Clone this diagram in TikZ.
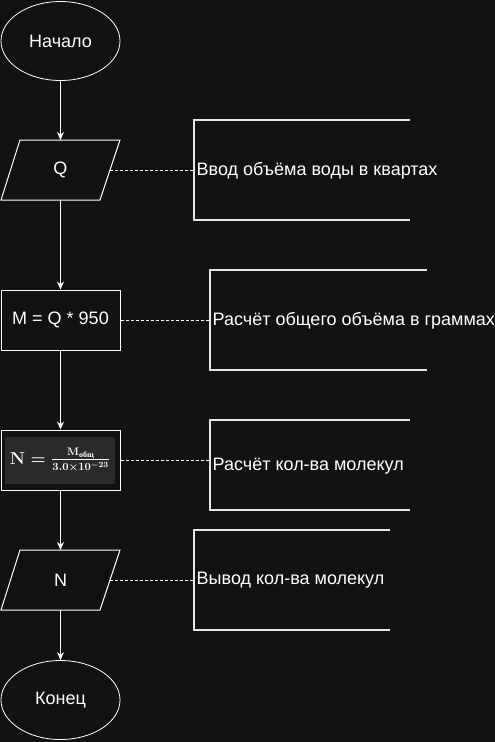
\documentclass[tikz,border=0pt]{standalone}
\usepackage[no-math]{fontspec}
\setmainfont{Liberation Sans}
\newfontfamily\cyrserif{Liberation Serif}
\usepackage{amsmath}
\usetikzlibrary{shapes.geometric,arrows.meta}
\definecolor{bg}{HTML}{121212}
\definecolor{formbg}{HTML}{2A2A2A}
\definecolor{brk}{HTML}{E6E6E6}
\newcommand{\myformula}{\mbox{\fontsize{16}{19}\selectfont\boldmath$\mathbf{N}=\frac{\mathbf{M}_{\text{\cyrserif\bfseries общ}}}{\mathbf{3.0\times10^{-23}}}$}}
\tikzset{
  lbl/.style={text=white,font=\fontsize{18}{21}\selectfont},
  term/.style={ellipse,draw=white,line width=0.8pt,minimum width=119pt,minimum height=79pt,inner sep=0pt,lbl},
  proc/.style={rectangle,draw=white,line width=1pt,minimum width=119pt,minimum height=60pt,inner sep=0pt,lbl},
  flow/.style={draw=white,line width=1pt,-{Stealth[length=8pt,width=7pt]}},
  dash line/.style={draw=white,line width=0.6pt,dash pattern=on 3pt off 2pt},
  bracket/.style={draw=brk,line width=1.6pt},
  note/.style={anchor=west,inner sep=0pt,lbl}
}
\begin{document}
\begin{tikzpicture}[x=1pt,y=-1pt]
\fill[bg] (0,0) rectangle (495,742);
\useasboundingbox (0,0) rectangle (495,742);

% start
\node[term] (start) at (60.5,41) {Начало};

% Q input parallelogram
\coordinate (q1) at (20,140); \coordinate (q2) at (120,140);
\coordinate (q3) at (100,200); \coordinate (q4) at (1,200);
\draw[white,line width=1pt] (q1) -- (q2) -- (q3) -- (q4) -- cycle;
\node[lbl] (q) at (60.5,170) {Q};
\coordinate (qr) at (110,170);
\coordinate (qt) at (60.5,140);
\coordinate (qb) at (60.5,200);

% M process
\node[proc] (m) at (60.5,320) {M = Q * 950};

% N formula process
\node[proc] (f) at (60.5,460) {};
\fill[formbg] (5,437) rectangle (115,484);
\node[text=white,inner sep=0pt] (fx) at (60,460) {\myformula};

% N output parallelogram
\coordinate (n1) at (20,550); \coordinate (n2) at (120,550);
\coordinate (n3) at (100,610); \coordinate (n4) at (1,610);
\draw[white,line width=1pt] (n1) -- (n2) -- (n3) -- (n4) -- cycle;
\node[lbl] (n) at (60.5,580) {N};
\coordinate (nr) at (110,580);
\coordinate (nt) at (60.5,550);
\coordinate (nb) at (60.5,610);

% end
\node[term] (end) at (60.5,700) {Конец};

% flow arrows
\draw[flow] (start.south) -- (qt);
\draw[flow] (qb) -- (m.north);
\draw[flow] (m.south) -- (f.north);
\draw[flow] (f.south) -- (nt);
\draw[flow] (nb) -- (end.north);

% brackets and notes
\draw[bracket] (410,120) -- (194,120) -- (194,220) -- (410,220);
\coordinate (b1) at (194,170);
\node[note] (t1) at (196.5,171) {Ввод объёма воды в квартах};
\draw[dash line] (qr) -- (b1);

\draw[bracket] (427,270) -- (210,270) -- (210,370) -- (427,370);
\coordinate (b2) at (210,320);
\node[note] (t2) at (212.5,321) {Расчёт общего объёма в граммах};
\draw[dash line] (m.east) -- (b2);

\draw[bracket] (410,420) -- (210,420) -- (210,510) -- (410,510);
\coordinate (b3) at (210,460);
\node[note] (t3) at (212.5,466) {Расчёт кол-ва молекул};
\draw[dash line] (f.east) -- (b3);

\draw[bracket] (390,530) -- (194,530) -- (194,630) -- (390,630);
\coordinate (b4) at (194,580);
\node[note] (t4) at (196.5,580) {Вывод кол-ва молекул};
\draw[dash line] (nr) -- (b4);
\end{tikzpicture}
\end{document}
